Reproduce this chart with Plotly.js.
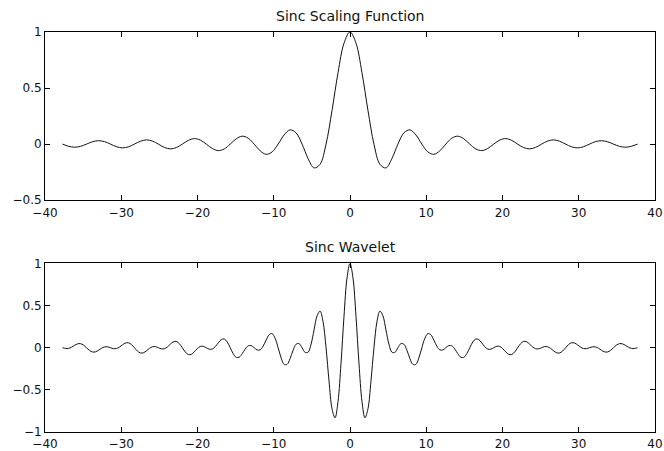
<!DOCTYPE html>
<html>
<head>
<meta charset="utf-8">
<script src="https://cdn.plot.ly/plotly-3.0.1.min.js"></script>
<style>html,body{margin:0;padding:0;background:#fff;}#chart{width:664px;height:451px;}</style>
</head>
<body>
<div id="chart"></div>
<script>
// Sinc scaling function, sampled from x = -37.70 to 37.70 in steps of 0.7854
const scalingStart = -37.699;
const scalingStep = 0.785398;
const scalingValues = [
  0, -0.0192, -0.0277, -0.0200, 0, 0.0209, 0.0303, 0.0220, 0, -0.0231, -0.0335, -0.0243,
  0, 0.0257, 0.0374, 0.0273, 0, -0.0290, -0.0424, -0.0310, 0, 0.0333, 0.0490, 0.0360,
  0, -0.0391, -0.0579, -0.0429, 0, 0.0474, 0.0707, 0.0530, 0, -0.0600, -0.0909, -0.0693,
  0, 0.0818, 0.1273, 0.1000, 0, -0.1286, -0.2122, -0.1801, 0, 0.3001, 0.6366, 0.9003,
  1,
  0.9003, 0.6366, 0.3001, 0, -0.1801, -0.2122, -0.1286, 0, 0.1000, 0.1273, 0.0818, 0,
  -0.0693, -0.0909, -0.0600, 0, 0.0530, 0.0707, 0.0474, 0, -0.0429, -0.0579, -0.0391, 0,
  0.0360, 0.0490, 0.0333, 0, -0.0310, -0.0424, -0.0290, 0, 0.0273, 0.0374, 0.0257, 0,
  -0.0243, -0.0335, -0.0231, 0, 0.0220, 0.0303, 0.0209, 0, -0.0200, -0.0277, -0.0192, 0
];

// Sinc wavelet, sampled from x = -37.70 to 37.70 in steps of 0.3927
const waveletStart = -37.699;
const waveletStep = 0.392699;
const waveletValues = [
  0, -0.0087, -0.0079, 0.0059, 0.0277, 0.0456, 0.0483, 0.0312,
  0, -0.0319, -0.0505, -0.0489, -0.0303, -0.0067, 0.0091, 0.0102,
  0, -0.0105, -0.0096, 0.0072, 0.0335, 0.0554, 0.0587, 0.0380,
  0, -0.0391, -0.0621, -0.0602, -0.0374, -0.0082, 0.0113, 0.0127,
  0, -0.0131, -0.0120, 0.0091, 0.0424, 0.0704, 0.0750, 0.0487,
  0, -0.0505, -0.0805, -0.0784, -0.0490, -0.0108, 0.0149, 0.0169,
  0, -0.0176, -0.0162, 0.0123, 0.0579, 0.0966, 0.1035, 0.0677,
  0, -0.0712, -0.1144, -0.1123, -0.0707, -0.0158, 0.0219, 0.0250,
  0, -0.0266, -0.0249, 0.0190, 0.0909, 0.1538, 0.1672, 0.1110,
  0, -0.1207, -0.1976, -0.1978, -0.1273, -0.0291, 0.0414, 0.0486,
  0, -0.0551, -0.0533, 0.0425, 0.2122, 0.3776, 0.4347, 0.3084,
  0, -0.3965, -0.7245, -0.8310, -0.6370, -0.1840, 0.3730, 0.8260,
  1,
  0.8260, 0.3730, -0.1840, -0.6370, -0.8310, -0.7245, -0.3965, 0,
  0.3084, 0.4347, 0.3776, 0.2122, 0.0425, -0.0533, -0.0551, 0,
  0.0486, 0.0414, -0.0291, -0.1273, -0.1978, -0.1976, -0.1207, 0,
  0.1110, 0.1672, 0.1538, 0.0909, 0.0190, -0.0249, -0.0266, 0,
  0.0250, 0.0219, -0.0158, -0.0707, -0.1123, -0.1144, -0.0712, 0,
  0.0677, 0.1035, 0.0966, 0.0579, 0.0123, -0.0162, -0.0176, 0,
  0.0169, 0.0149, -0.0108, -0.0490, -0.0784, -0.0805, -0.0505, 0,
  0.0487, 0.0750, 0.0704, 0.0424, 0.0091, -0.0120, -0.0131, 0,
  0.0127, 0.0113, -0.0082, -0.0374, -0.0602, -0.0621, -0.0391, 0,
  0.0380, 0.0587, 0.0554, 0.0335, 0.0072, -0.0096, -0.0105, 0,
  0.0102, 0.0091, -0.0067, -0.0303, -0.0489, -0.0505, -0.0319, 0,
  0.0312, 0.0483, 0.0456, 0.0277, 0.0059, -0.0079, -0.0087, 0
];

const titles = ['Sinc Scaling Function', 'Sinc Wavelet'];
const xTicks = [-40, -30, -20, -10, 0, 10, 20, 30, 40];
const yTicksTop = [-0.5, 0, 0.5, 1];
const yTicksBottom = [-1, -0.5, 0, 0.5, 1];

const tickFont = {family: 'DejaVu Sans, sans-serif', size: 12, color: '#111'};
const titleFont = {family: 'DejaVu Sans, sans-serif', size: 14, color: '#111'};
const lineStyle = {color: '#111', width: 1, shape: 'spline', smoothing: 1};

const traces = [
  {type: 'scatter', mode: 'lines', x0: scalingStart, dx: scalingStep, y: scalingValues,
   line: lineStyle, xaxis: 'x', yaxis: 'y', hoverinfo: 'skip'},
  {type: 'scatter', mode: 'lines', x0: waveletStart, dx: waveletStep, y: waveletValues,
   line: lineStyle, xaxis: 'x2', yaxis: 'y2', hoverinfo: 'skip'}
];

function xAxis(anchor) {
  return {anchor: anchor, range: [-40, 40], tickvals: xTicks, ticks: 'inside', ticklen: 5,
    tickcolor: '#000', showline: true, linecolor: '#000', linewidth: 1, mirror: 'ticks',
    showgrid: false, zeroline: false, tickfont: tickFont, ticklabelstandoff: 1};
}
function yAxis(anchor, range, ticks, domain) {
  return {anchor: anchor, domain: domain, range: range, tickvals: ticks, ticks: 'inside', ticklen: 5,
    tickcolor: '#000', showline: true, linecolor: '#000', linewidth: 1, mirror: 'ticks',
    showgrid: false, zeroline: false, tickfont: tickFont};
}

const layout = {
  width: 664, height: 451,
  margin: {l: 45, r: 9, t: 32, b: 19},
  paper_bgcolor: '#fff', plot_bgcolor: '#fff',
  showlegend: false,
  xaxis: xAxis('y'),
  yaxis: yAxis('x', [-0.5, 1], yTicksTop, [0.5796, 1]),
  xaxis2: xAxis('y2'),
  yaxis2: yAxis('x2', [-1, 1], yTicksBottom, [0, 0.4214]),
  annotations: [
    {text: titles[0], xref: 'paper', yref: 'paper', x: 0.5, y: 1, yshift: 6, xanchor: 'center', yanchor: 'bottom', showarrow: false, font: titleFont},
    {text: titles[1], xref: 'paper', yref: 'paper', x: 0.5, y: 0.4214, yshift: 6, xanchor: 'center', yanchor: 'bottom', showarrow: false, font: titleFont}
  ]
};

Plotly.newPlot('chart', traces, layout, {staticPlot: true, displayModeBar: false});
</script>
</body>
</html>
